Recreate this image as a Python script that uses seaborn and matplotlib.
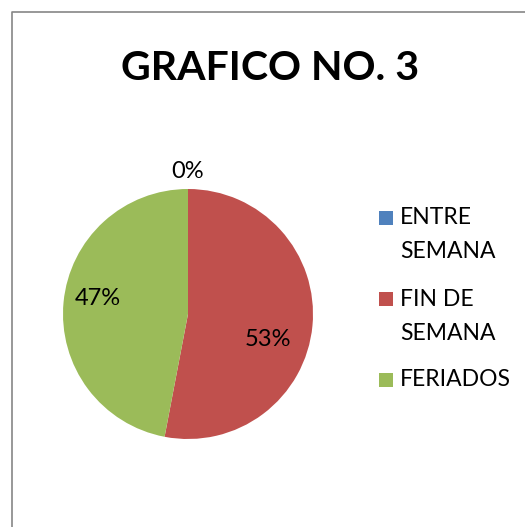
import numpy as np
import seaborn as sns
import matplotlib.pyplot as plt
from matplotlib.lines import Line2D
from matplotlib.patches import Rectangle

# Data
categories = ['ENTRE\nSEMANA', 'FIN DE\nSEMANA', 'FERIADOS']
values = [0, 53, 47]
colors = ['#4F81BD', '#C0504D', '#9BBB59']

# label placement (distance from centre in radii, extra rotation in degrees)
label_dist = [1.14, 0.67, 0.73]
label_turn = [0, -12.6, -4.6]

sns.set_theme(style='white')
plt.rcParams['font.family'] = ['Lato', 'DejaVu Sans']

W, H = 525, 527
fig = plt.figure(figsize=(W / 100, H / 100), dpi=100)

# pie axes: center ~ (188, 314) px, radius 125 px
cx, cy, r = 188, 314, 125
ax = fig.add_axes([(cx - r) / W, (H - cy - r) / H, 2 * r / W, 2 * r / H])
wedges, _ = ax.pie(values, colors=colors, startangle=90, counterclock=False,
                   radius=1, wedgeprops=dict(linewidth=0))
ax.set_xlim(-1, 1)
ax.set_ylim(-1, 1)
ax.set_aspect('equal')
ax.axis('off')

# percentage labels
total = sum(values)
for w, v, d, t in zip(wedges, values, label_dist, label_turn):
    ang = np.deg2rad((w.theta1 + w.theta2) / 2 + t)
    ax.text(d * np.cos(ang), d * np.sin(ang), f'{round(100 * v / total)}%',
            ha='center', va='center', fontsize=17, color='#000000', clip_on=False)

# title
fig.text(270 / W, 1 - 68 / H, 'GRAFICO NO. 3', ha='center', va='center',
         fontsize=29.5, fontweight='bold', color='#000000')

# legend, drawn by hand so the marker sits on the first text line (Excel style)
line_step, entry_gap = 34, 13
y = 218
for lab, c in zip(categories, colors):
    lines = lab.split('\n')
    fig.add_artist(Rectangle((379 / W, 1 - (y + 7) / H), 14 / W, 14 / H,
                             transform=fig.transFigure, facecolor=c, edgecolor='none'))
    for i, ln in enumerate(lines):
        fig.text(400 / W, 1 - (y + i * line_step) / H, ln, ha='left', va='center',
                 fontsize=16.5, color='#000000')
    y += len(lines) * line_step + entry_gap

# chart border (left and top only visible)
fig.add_artist(Line2D([11.5 / W, 11.5 / W, 1], [0, 1 - 12 / H, 1 - 12 / H],
                      transform=fig.transFigure, color='#868686', linewidth=1.2))

fig.savefig('out.png', dpi=100, facecolor='white')
